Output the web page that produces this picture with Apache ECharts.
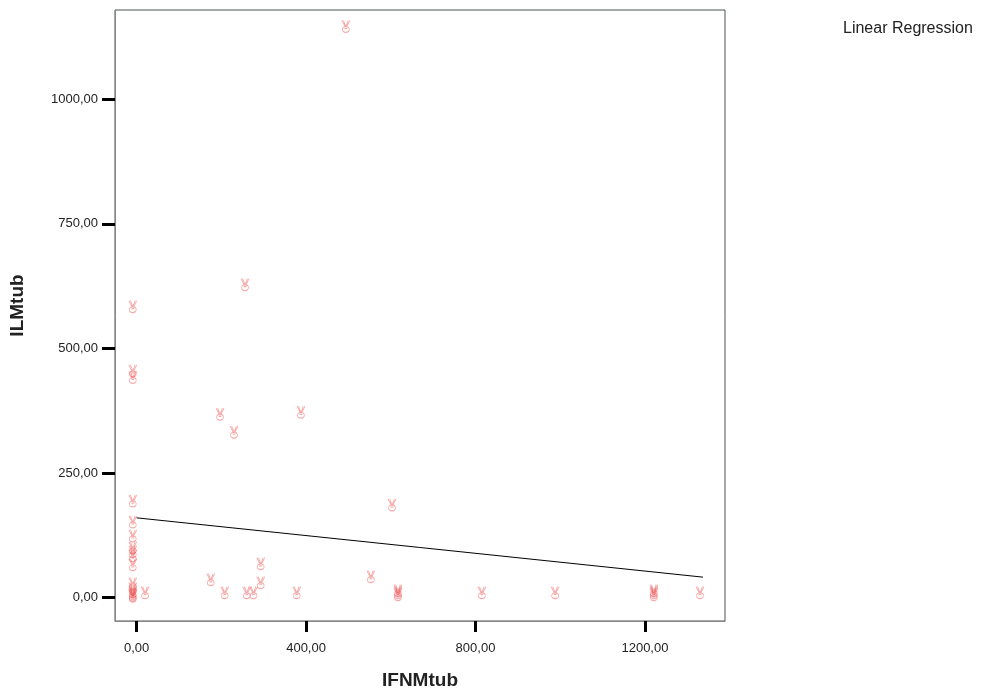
<!DOCTYPE html>
<html>
<head>
<meta charset="utf-8">
<script src="https://cdn.jsdelivr.net/npm/echarts@6/dist/echarts.min.js"></script>
<style>html,body{margin:0;padding:0;background:#fff;}#c{width:981px;height:695px;}</style>
</head>
<body>
<div id="c"></div>
<script>
// Observed points (IFNMtub, ILMtub)
const ifnmValues = [-9,-9,-9,-9,-9,-9,-9,-9,-9,-9,-9,-9,-9,-9,-9,-9,
  20,175,197,208,230,256,260,276,293,293,378,388,494,553,603,617,617,617,815,988,1221,1221,1221,1330];
const ilmValues  = [584,455,442,194,152,124,100,92,84,66,28,18,12,8,5,3,
  10,36,368,10,332,628,10,10,68,30,10,372,1146,42,186,10,6,14,10,10,10,6,14,10];
// Linear regression fit endpoints
const fitX = [0, 1337];
const fitY = [160, 41];
const xTicks = [0, 400, 800, 1200];
const yTicks = [0, 250, 500, 750, 1000];

const pts = ifnmValues.map((x, i) => [x, ilmValues[i]]);
const fit = fitX.map((x, i) => [x, fitY[i]]);
const fmt = v => v.toFixed(2).replace('.', ',');
const handPath = 'path://M1,0 L3.6,6.6 M2.2,0 L3.9,5.8 M7,0 L4.4,6.6 M5.8,0 L4.1,5.8 M4,6.2 C7.4,6.2 7.4,11.8 4,11.8 C0.6,11.8 0.6,6.2 4,6.2 Z M3,8 L5,8';

const chart = echarts.init(document.getElementById('c'));
chart.setOption({
  animation: false,
  grid: {left: 115, top: 10, width: 610, height: 613, show: true, borderColor: '#4a524e', borderWidth: 1, backgroundColor: '#fff'},
  xAxis: {
    type: 'value', min: -51, max: 1389,
    name: 'IFNMtub', nameLocation: 'middle', nameGap: 50,
    nameTextStyle: {fontFamily: 'Liberation Sans', fontWeight: 'bold', fontSize: 19, color: '#222'},
    axisLine: {show: true, onZero: false, lineStyle: {color: '#888', width: 1}},
    splitLine: {show: false},
    axisTick: {show: true, length: 11, lineStyle: {color: '#000', width: 3}, customValues: xTicks},
    axisLabel: {customValues: xTicks, formatter: fmt, margin: 21, fontFamily: 'Liberation Sans', fontSize: 13, color: '#222'}
  },
  yAxis: {
    type: 'value', min: -47, max: 1179,
    name: 'ILMtub', nameLocation: 'middle', nameGap: 88,
    nameTextStyle: {fontFamily: 'Liberation Sans', fontWeight: 'bold', fontSize: 19, color: '#222', padding: [0, 0, 0, 20]},
    axisLine: {show: true, onZero: false, lineStyle: {color: '#888', width: 1}},
    splitLine: {show: false},
    axisTick: {show: true, length: 13, lineStyle: {color: '#000', width: 3}, customValues: yTicks},
    axisLabel: {customValues: yTicks, formatter: fmt, margin: 17, fontFamily: 'Liberation Sans', fontSize: 13, color: '#222'}
  },
  graphic: [{type: 'text', x: 843, y: 21, style: {text: 'Linear Regression', font: '16px "Liberation Sans"', fill: '#222'}}],
  series: [
    {
      type: 'scatter', data: pts, z: 3,
      symbol: handPath, symbolSize: [8, 12],
      itemStyle: {color: 'rgba(255,255,255,0)', borderColor: 'rgba(236,80,80,0.6)', borderWidth: 1}
    },
    {
      type: 'line', data: fit, symbol: 'none', z: 2,
      lineStyle: {color: '#000', width: 1}
    }
  ]
});
</script>
</body>
</html>
